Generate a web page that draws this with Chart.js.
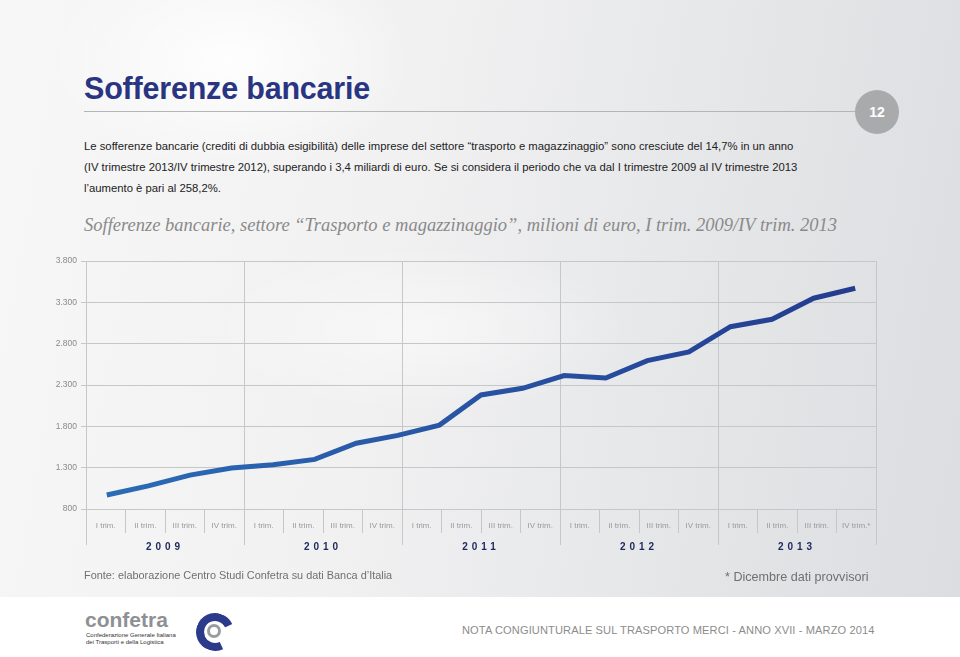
<!DOCTYPE html>
<html lang="it">
<head>
    <meta charset="UTF-8">
    <title>Sofferenze bancarie</title>
    <style>
        body {
            margin: 0;
            width: 960px;
            height: 657px;
            position: relative;
            overflow: hidden;
            font-family: "Liberation Sans", Arial, sans-serif;
            background: #fff;
        }
        #sfondo {
            position: absolute;
            left: 0; top: 0;
            width: 960px; height: 597px;
            background:
                radial-gradient(ellipse 260px 160px at 230px 60px, rgba(255,255,255,0.9), rgba(255,255,255,0) 70%),
                radial-gradient(ellipse 300px 120px at 420px 330px, rgba(255,255,255,0.5), rgba(255,255,255,0) 70%),
                linear-gradient(100deg, #f7f7f7 0%, #f1f1f2 40%, #e4e5e7 75%, #dcdde0 100%);
        }
        h1 {
            position: absolute;
            left: 84px; top: 71px;
            margin: 0;
            font-size: 30.5px;
            font-weight: bold;
            color: #2a3582;
            letter-spacing: -0.2px;
        }
        #riga {
            position: absolute;
            left: 84px; top: 111px;
            width: 775px; height: 1px;
            background: #b4b5b7;
        }
        #pagina {
            position: absolute;
            left: 855px; top: 90px;
            width: 44px; height: 44px;
            border-radius: 50%;
            background: #a9aaac;
            color: #fff;
            font-weight: bold;
            font-size: 14px;
            line-height: 44px;
            text-align: center;
        }
        #testo {
            position: absolute;
            left: 84px; top: 136px;
            font-size: 11.3px;
            line-height: 21px;
            color: #222;
        }
        #titoloGrafico {
            position: absolute;
            left: 84px; top: 215px;
            font-family: "Liberation Serif", "DejaVu Serif", serif;
            font-style: italic;
            font-size: 18.5px;
            color: #8a8a8a;
        }
        #grafico {
            position: absolute;
            left: 0; top: 240px;
        }
        #fonte {
            position: absolute;
            left: 84px; top: 569px;
            font-size: 10.9px;
            color: #707070;
        }
        #nota {
            position: absolute;
            left: 725px; top: 570px;
            font-size: 12.6px;
            color: #707070;
        }
        #piede {
            position: absolute;
            left: 462px; top: 624px;
            font-size: 11.1px;
            color: #8c8c8c;
            letter-spacing: 0.1px;
        }
        #logoTesto {
            position: absolute;
            left: 85px; top: 609px;
            color: #8e9094;
            font-weight: bold;
            font-size: 21px;
            line-height: 21px;
        }
        #logoSotto {
            position: absolute;
            left: 86px; top: 632px;
            font-size: 6px;
            line-height: 7px;
            color: #333;
        }
        #logoC {
            position: absolute;
            left: 196px; top: 613px;
            width: 22px; height: 22px;
            border-radius: 50%;
            border: 8px solid #2c3a8c;
            border-right-color: transparent;
            transform: rotate(20deg);
        }
        #logoPunto {
            position: absolute;
            left: 207px; top: 624px;
            width: 14px; height: 14px;
            border-radius: 50%;
            border: 3px solid #9a9ca0;
            box-sizing: border-box;
        }
    </style>
</head>
<body>
    <div id="sfondo"></div>
    <h1>Sofferenze bancarie</h1>
    <div id="riga"></div>
    <div id="pagina">12</div>
    <div id="testo">
        Le sofferenze bancarie (crediti di dubbia esigibilità) delle imprese del settore “trasporto e magazzinaggio” sono cresciute del 14,7% in un anno<br>
        (IV trimestre 2013/IV trimestre 2012), superando i 3,4 miliardi di euro. Se si considera il periodo che va dal I trimestre 2009 al IV trimestre 2013<br>
        l’aumento è pari al 258,2%.
    </div>
    <div id="titoloGrafico">Sofferenze bancarie, settore “Trasporto e magazzinaggio”, milioni di euro, I trim. 2009/IV trim. 2013</div>

    <canvas id="grafico" width="960" height="330"></canvas>

    <div id="fonte">Fonte: elaborazione Centro Studi Confetra su dati Banca d’Italia</div>
    <div id="nota">* Dicembre dati provvisori</div>

    <div id="logoTesto">confetra</div>
    <div id="logoSotto">Confederazione Generale Italiana<br>dei Trasporti e della Logistica</div>
    <div id="logoC"></div>
    <div id="logoPunto"></div>
    <div id="piede">NOTA CONGIUNTURALE SUL TRASPORTO MERCI - ANNO XVII - MARZO 2014</div>

    <script src="https://cdn.jsdelivr.net/npm/chart.js"></script>
    <script>
        // valori (milioni di euro)
        const sofferenze = [970, 1080, 1210, 1295, 1335, 1400, 1595, 1690, 1815, 2180,
                            2260, 2415, 2385, 2595, 2700, 3005, 3095, 3350, 3470];

        const trimestri = ['I trim.', 'II trim.', 'III trim.', 'IV trim.',
                           'I trim.', 'II trim.', 'III trim.', 'IV trim.',
                           'I trim.', 'II trim.', 'III trim.', 'IV trim.',
                           'I trim.', 'II trim.', 'III trim.', 'IV trim.',
                           'I trim.', 'II trim.', 'III trim.', 'IV trim.*'];

        const anni = ['2009', '2010', '2011', '2012', '2013'];

        const yMin = 800;
        const yMax = 3800;
        const yPasso = 500;

        const grigia = '#c6c7c9';

        // spaziatura delle lettere per gli anni
        const spaziatura = {
            id: 'spaziatura',
            beforeDraw(chart) {
                const s = chart.scales.yr;
                if (s && !s._spaced) {
                    const orig = s.drawLabels;
                    s.drawLabels = function (area) {
                        this.ctx.save();
                        this.ctx.letterSpacing = '4px';
                        orig.call(this, area);
                        this.ctx.restore();
                    };
                    s._spaced = true;
                }
            }
        };

        function coloreLinea(context) {
            const chart = context.chart;
            const area = chart.chartArea;
            if (!area) return '#2753a3';
            const g = chart.ctx.createLinearGradient(area.left, 0, area.right, 0);
            g.addColorStop(0, '#2a6db6');
            g.addColorStop(0.5, '#2853a3');
            g.addColorStop(1, '#243b8f');
            return g;
        }

        const ctx = document.getElementById('grafico').getContext('2d');
        const chart = new Chart(ctx, {
            type: 'line',
            data: {
                labels: sofferenze.map((v, i) => String(i + 1)),
                datasets: [{
                    label: 'Sofferenze bancarie',
                    data: sofferenze,
                    xAxisID: 'x',
                    yAxisID: 'y',
                    borderColor: coloreLinea,
                    borderWidth: 5,
                    pointRadius: 0,
                    tension: 0,
                    fill: false
                }]
            },
            options: {
                responsive: false,
                devicePixelRatio: 1,
                animation: false,
                layout: {
                    padding: { left: 46, right: 84, top: 21, bottom: 15 }
                },
                plugins: {
                    legend: { display: false },
                    tooltip: { enabled: false }
                },
                scales: {
                    x: {
                        type: 'category',
                        display: false,
                        offset: true
                    },
                    q: {
                        type: 'category',
                        labels: trimestri,
                        position: 'bottom',
                        weight: 0,
                        offset: true,
                        bounds: 'ticks',
                        grid: {
                            offset: true,
                            drawOnChartArea: false,
                            tickLength: 24,
                            color: grigia
                        },
                        border: { display: false },
                        ticks: {
                            autoSkip: false,
                            maxRotation: 0,
                            color: '#9a9a9a',
                            font: { size: 8, family: 'Liberation Sans' },
                            padding: -12
                        },
                        afterFit: s => { s.height = 24; }
                    },
                    yr: {
                        type: 'category',
                        labels: anni,
                        position: 'bottom',
                        weight: 1,
                        offset: true,
                        bounds: 'ticks',
                        grid: {
                            offset: true,
                            drawOnChartArea: true,
                            tickLength: 12,
                            color: grigia
                        },
                        border: { display: false },
                        ticks: {
                            autoSkip: false,
                            maxRotation: 0,
                            color: '#1f2b60',
                            font: { size: 10, weight: 'bold', family: 'Liberation Sans' },
                            padding: -4
                        },
                        afterFit: s => { s.height = 22; }
                    },
                    y: {
                        type: 'linear',
                        min: yMin,
                        max: yMax,
                        grid: {
                            color: grigia,
                            tickLength: 5
                        },
                        border: { display: false },
                        ticks: {
                            stepSize: yPasso,
                            color: '#8a8a8a',
                            font: { size: 8.5, family: 'Liberation Sans' },
                            padding: 4,
                            callback: v => v.toLocaleString('it-IT')
                        },
                        afterFit: s => { s.width = 40; }
                    }
                }
            },
            plugins: [spaziatura]
        });
    </script>
</body>
</html>
